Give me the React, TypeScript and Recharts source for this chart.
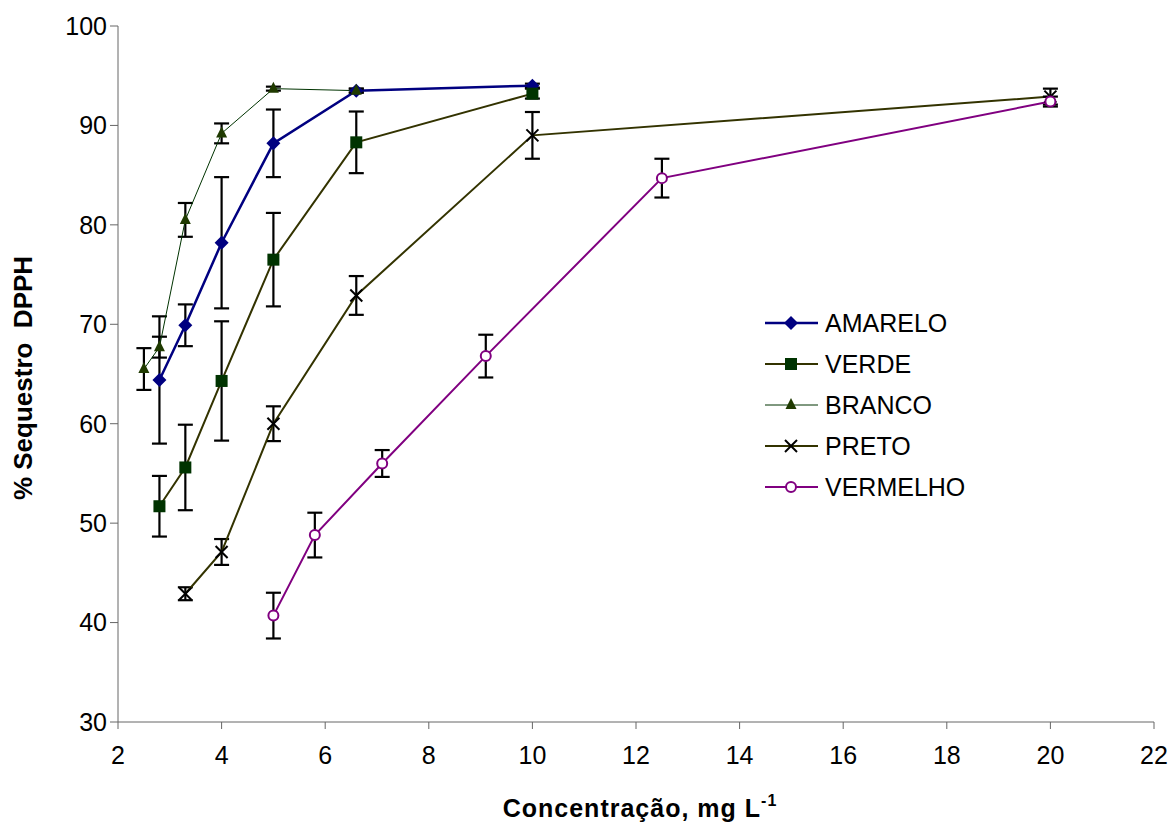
import React from 'react';
import { ComposedChart, Line, XAxis, YAxis, ErrorBar, Label } from 'recharts';

const X_TICKS = [2, 4, 6, 8, 10, 12, 14, 16, 18, 20, 22];
const Y_TICKS = [30, 40, 50, 60, 70, 80, 90, 100];

const amareloX = [2.8, 3.3, 4, 5, 6.6, 10];
const amareloY = [64.4, 69.9, 78.2, 88.2, 93.5, 94.0];
const amareloErr = [6.4, 2.1, 6.6, 3.4, 0.2, 0.2];

const verdeX = [2.8, 3.3, 4, 5, 6.6, 10];
const verdeY = [51.7, 55.6, 64.3, 76.5, 88.3, 93.2];
const verdeErr = [3.05, 4.3, 6.0, 4.7, 3.1, 0.5];

const brancoX = [2.5, 2.8, 3.3, 4, 5, 6.6];
const brancoY = [65.5, 67.7, 80.5, 89.2, 93.7, 93.5];
const brancoErr = [2.1, 1.05, 1.7, 1.0, 0.2, 0.2];

const pretoX = [3.3, 4, 5, 6.6, 10, 20];
const pretoY = [42.9, 47.1, 60.0, 72.9, 89.0, 92.9];
const pretoErr = [0.65, 1.3, 1.75, 1.95, 2.35, 0.8];

const vermelhoX = [5, 5.8, 7.1, 9.1, 12.5, 20];
const vermelhoY = [40.7, 48.8, 56.0, 66.8, 84.7, 92.4];
const vermelhoErr = [2.3, 2.25, 1.35, 2.15, 1.95, 0.5];

const toRows = (xs: number[], ys: number[], es: number[]) =>
  xs.map((x, i) => ({ x, y: ys[i], err: es[i] }));

const FONT = '"Liberation Sans", Arial, sans-serif';

type Shape = 'diamond' | 'square' | 'triangle' | 'cross' | 'circle';

function Marker({ cx, cy, shape, fill }: { cx: number; cy: number; shape: Shape; fill: string }) {
  if (cx == null || cy == null) return null;
  switch (shape) {
    case 'diamond':
      return <path d={`M${cx},${cy - 7}L${cx + 7},${cy}L${cx},${cy + 7}L${cx - 7},${cy}Z`} fill={fill} />;
    case 'square':
      return <rect x={cx - 6} y={cy - 6} width={12} height={12} fill={fill} />;
    case 'triangle':
      return <path d={`M${cx},${cy - 7}L${cx + 5.5},${cy + 4}L${cx - 5.5},${cy + 4}Z`} fill={fill} />;
    case 'cross':
      return (
        <g stroke="#000" strokeWidth={2}>
          <line x1={cx - 6} y1={cy - 6} x2={cx + 6} y2={cy + 6} />
          <line x1={cx - 6} y1={cy + 6} x2={cx + 6} y2={cy - 6} />
        </g>
      );
    case 'circle':
      return <circle cx={cx} cy={cy} r={5} fill="#fff" stroke={fill} strokeWidth={2} />;
  }
  return null;
}

const SERIES = [
  { name: 'AMARELO', data: toRows(amareloX, amareloY, amareloErr), line: '#000080', width: 2.5, shape: 'diamond' as Shape, fill: '#000080' },
  { name: 'VERDE', data: toRows(verdeX, verdeY, verdeErr), line: '#333300', width: 2, shape: 'square' as Shape, fill: '#003300' },
  { name: 'BRANCO', data: toRows(brancoX, brancoY, brancoErr), line: '#003300', width: 1, shape: 'triangle' as Shape, fill: '#1f3a00' },
  { name: 'PRETO', data: toRows(pretoX, pretoY, pretoErr), line: '#333300', width: 2, shape: 'cross' as Shape, fill: '#000' },
  { name: 'VERMELHO', data: toRows(vermelhoX, vermelhoY, vermelhoErr), line: '#800080', width: 2, shape: 'circle' as Shape, fill: '#800080' },
];

function LegendBox() {
  return (
    <svg width={230} height={210} style={{ position: 'absolute', left: 755, top: 300 }}>
      {SERIES.map((s, i) => {
        const y = 23 + i * 41;
        return (
          <g key={s.name}>
            <line x1={10} x2={63} y1={y} y2={y} stroke={s.line} strokeWidth={s.width} />
            <Marker cx={36} cy={y} shape={s.shape} fill={s.fill} />
            <text x={70} y={y + 9} fontSize={25} fontFamily={FONT} fill="#000">{s.name}</text>
          </g>
        );
      })}
    </svg>
  );
}

export default function App() {
  return (
    <div style={{ position: 'relative', width: 1170, height: 828, background: '#fff' }}>
      <style>{`body{margin:0;}`}</style>
      <ComposedChart width={1170} height={828} margin={{ top: 26, right: 16, bottom: 0, left: 0 }}>
        <XAxis
          type="number"
          dataKey="x"
          domain={[2, 22]}
          ticks={X_TICKS}
          allowDataOverflow
          stroke="#666"
          tickSize={7}
          tickMargin={17}
          height={106}
          tick={{ fill: '#000', fontSize: 25, fontFamily: FONT }}
        >
          <Label
            content={({ viewBox }: any) => (
              <text
                x={viewBox.x + viewBox.width / 2 + 4}
                y={viewBox.y + 95}
                textAnchor="middle"
                fontSize={25}
                fontWeight="bold"
                fontFamily={FONT}
                letterSpacing={1}
                fill="#000"
              >
                Concentração, mg L<tspan dy={-11} fontSize={16}>-1</tspan>
              </text>
            )}
          />
        </XAxis>
        <YAxis
          type="number"
          domain={[30, 100]}
          ticks={Y_TICKS}
          allowDataOverflow
          stroke="#666"
          tickSize={8}
          tickMargin={3}
          width={118}
          tick={{ fill: '#000', fontSize: 25, fontFamily: FONT }}
        >
          <Label
            content={({ viewBox }: any) => (
              <text
                x={32}
                y={viewBox.y + viewBox.height / 2 + 4}
                transform={`rotate(-90, 32, ${viewBox.y + viewBox.height / 2 + 4})`}
                textAnchor="middle"
                fontSize={26}
                fontWeight="bold"
                fontFamily={FONT}
                fill="#000"
                style={{ whiteSpace: 'pre' }}
              >
                % Sequestro  DPPH
              </text>
            )}
          />
        </YAxis>
        {SERIES.map((s) => (
          <Line
            key={s.name}
            data={s.data}
            dataKey="y"
            name={s.name}
            type="linear"
            stroke={s.line}
            strokeWidth={s.width}
            isAnimationActive={false}
            dot={(p: any) => <Marker key={`${s.name}-${p.index}`} cx={p.cx} cy={p.cy} shape={s.shape} fill={s.fill} />}
            activeDot={false}
          >
            <ErrorBar dataKey="err" direction="y" width={7.5} stroke="#000" strokeWidth={2.2} isAnimationActive={false} />
          </Line>
        ))}
      </ComposedChart>
      <LegendBox />
    </div>
  );
}
